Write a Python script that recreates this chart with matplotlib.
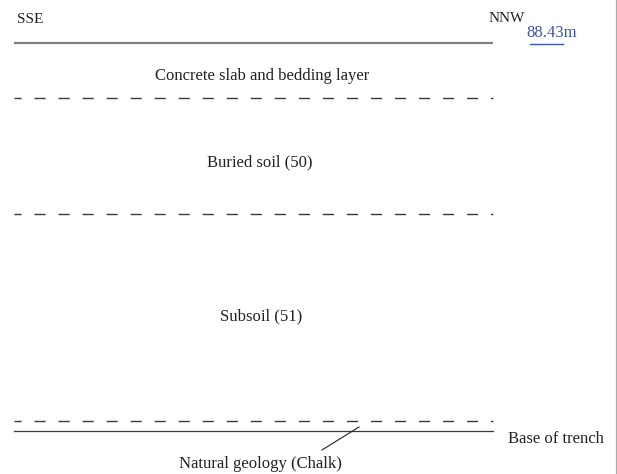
import matplotlib.pyplot as plt

plt.rcParams['font.family'] = ['Liberation Serif', 'DejaVu Serif']
plt.rcParams['lines.scale_dashes'] = False

# section drawn in pixel units of the original drawing (y grows downward)
x_left, x_right = 14, 493
top_y = 43
dashed_y = [98, 214, 421]
base_y = 431

layer_names = ["Concrete slab and bedding layer", "Buried soil (50)", "Subsoil (51)"]
layer_x = [262, 260, 261]
layer_y = [80, 166, 320]

level = "88.43m"

fig = plt.figure(figsize=(6.17, 4.74), dpi=100)
ax = fig.add_axes([0, 0, 1, 1])
ax.set_xlim(0, 617)
ax.set_ylim(474, 0)
ax.axis("off")

# ground surface and base of trench
ax.plot([x_left, x_right], [top_y, top_y], color="#808080", lw=1.6, solid_capstyle="butt")
ax.plot([x_left, x_right], [base_y, base_y], color="#3a3a3a", lw=0.9)

# layer boundaries
for y in dashed_y:
    ax.plot([x_left, x_right], [y, y], color="#3a3a3a", lw=1.0,
            linestyle=(2.9, (8.0, 9.3)), solid_capstyle="butt")

for name, x, y in zip(layer_names, layer_x, layer_y):
    ax.text(x, y, name, ha="center", va="baseline", fontsize=12, color="#222222")

ax.text(17, 23, "SSE", ha="left", va="baseline", fontsize=11, color="#222222")
ax.text(489, 22, "NNW", ha="left", va="baseline", fontsize=11, color="#222222")
ax.text(526, 37, level, ha="left", va="baseline", fontsize=12, color="#3b55b0")
ax.plot([530, 563], [44, 44], color="#3b55b0", lw=1.0)

ax.text(508, 443, "Base of trench", ha="left", va="baseline", fontsize=12, color="#222222")
ax.text(260, 468, "Natural geology (Chalk)", ha="center", va="baseline", fontsize=12, color="#222222")
ax.plot([359, 322], [427, 450], color="#222222", lw=0.8)

# frame edge on the right
ax.plot([615.5, 615.5], [0, 474], color="#aaaaaa", lw=0.9)

fig.savefig("out.png", dpi=100)
